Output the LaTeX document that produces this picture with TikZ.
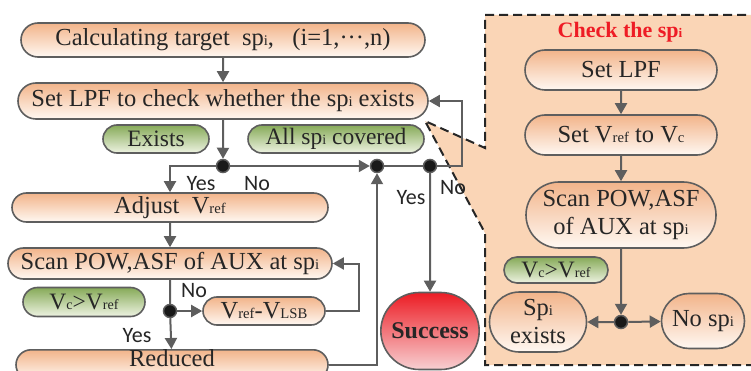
\documentclass[tikz,border=0pt]{standalone}
\usepackage{fontspec}
\setmainfont{Liberation Serif}
\newfontfamily\yesno{Carlito}
\usetikzlibrary{arrows.meta,shapes.misc}

\definecolor{edgegray}{HTML}{5E5E5E}
\definecolor{boxtop}{HTML}{F2B48A}
\definecolor{boxbot}{HTML}{FFF8F2}
\definecolor{greentop}{HTML}{86AA58}
\definecolor{greenbot}{HTML}{EEF3E2}
\definecolor{panelfill}{HTML}{FAD5B6}
\definecolor{redtop}{HTML}{EC1C24}
\definecolor{redbot}{HTML}{F8D0D2}
\definecolor{titlered}{HTML}{EE1C25}

\newcommand{\lw}[1]{\scalebox{0.6}{#1}}

\tikzset{
  flowbox/.style={rounded rectangle, draw=edgegray, line width=1.6pt, top color=boxtop, bottom color=boxbot,
    inner sep=0pt, align=center, text=black!85, font=\fontsize{24.5}{28}\selectfont},
  tagbox/.style={rounded rectangle, draw=edgegray, line width=1.6pt, top color=greentop, bottom color=greenbot,
    inner sep=0pt, text=black!85, font=\fontsize{23.5}{26}\selectfont},
  jdot/.style={circle, fill=black!90, draw=edgegray, line width=1.5pt, minimum size=13pt, inner sep=0pt},
  flow/.style={draw=edgegray, line width=2pt, -{Triangle[length=11pt,width=12pt]}},
  plain/.style={draw=edgegray, line width=2pt},
  yn/.style={font=\yesno\fontsize{22}{24}\selectfont, inner sep=0pt, text=black!85},
  panelline/.style={draw=black!85, line width=2pt, dash pattern=on 9pt off 5pt},
}

\begin{document}
\begin{tikzpicture}[x=1pt,y=-1pt]
  \clip (0,0) rectangle (751,371);
  % zoomed panel
  \fill[panelfill] (425,121) -- (485,148) -- (485,15) -- (760,15) -- (760,365) -- (485,365) -- (485,233) -- cycle;
  \draw[panelline] (760,15) -- (485,15) -- (485,148) -- (425,121) -- (485,233) -- (485,365) -- (760,365);

  % main flow
  \node[flowbox, minimum width=404pt, minimum height=34pt] (calc) at (223,40) {Calculating target\ \ sp\lw{i},\ \ \ (i=1,···,n)};
  \node[flowbox, minimum width=410pt, minimum height=36pt] (setlpf) at (223,101) {Set LPF to check whether the sp\lw{i} exists};
  \node[tagbox, minimum width=106pt, minimum height=28pt] (exists) at (156,139) {Exists};
  \node[tagbox, minimum width=176pt, minimum height=28pt] (allcov) at (336,139) {All sp\lw{i} covered};
  \node[jdot] (dotA) at (223,166) {};
  \node[jdot] (dotB) at (377,166) {};
  \node[jdot] (dotC) at (430,166) {};
  \node[flowbox, minimum width=316pt, minimum height=29pt] (adjust) at (170,207.5) {Adjust\ \ V\lw{ref}};
  \node[flowbox, minimum width=324pt, minimum height=31pt] (scan) at (170,263.5) {Scan POW,ASF of AUX at sp\lw{i}};
  \node[jdot] (dotD) at (170,311) {};
  \node[flowbox, minimum width=122pt, minimum height=28pt] (vlsb) at (264,311) {V\lw{ref}-V\lw{LSB}};
  \node[tagbox, minimum width=122pt, minimum height=29pt] (vcv) at (84,302) {V\lw{c}>V\lw{ref}};
  \node[flowbox, minimum width=312pt, text height=17pt, text depth=13pt, anchor=north] (reduced) at (172,349) {Reduced};
  \node[rounded rectangle, draw=edgegray, line width=1.6pt, top color=redtop, bottom color=redbot,
    minimum width=105pt, minimum height=77pt, text=black!85, font=\bfseries\fontsize{24}{28}\selectfont] (success) at (430,331) {Success};

  % panel flow
  \node[text=titlered, font=\bfseries\fontsize{22}{24}\selectfont] (title) at (620,32) {Check the sp\lw{i}};
  \node[flowbox, minimum width=192pt, minimum height=40pt] (plpf) at (621,70) {Set LPF};
  \node[flowbox, minimum width=192pt, minimum height=40pt] (pvref) at (621,135) {Set V\lw{ref} to V\lw{c}};
  \node[flowbox, minimum width=190pt, minimum height=66pt] (pscan) at (621,215) {Scan POW,ASF\\of AUX at sp\lw{i}};
  \node[tagbox, minimum width=104pt, minimum height=26pt] (pvcv) at (556,270) {V\lw{c}>V\lw{ref}};
  \node[jdot] (dotE) at (621,322) {};
  \node[flowbox, minimum width=97pt, minimum height=60pt] (spex) at (538,322) {Sp\lw{i}\\exists};
  \node[flowbox, minimum width=83pt, minimum height=55pt] (nosp) at (703,321) {No sp\lw{i}};

  % connectors
  \draw[flow] (calc) -- (setlpf);
  \draw[flow] (setlpf) -- (dotA);
  \draw[flow] (dotA.west) -| (adjust.north);
  \draw[flow] (dotA) -- (dotB);
  \draw[plain] (dotB) -- (dotC);
  \draw[flow] (dotC.east) -- ++(25,0) |- (setlpf.east);
  \draw[flow] (dotC) -- (success);
  \draw[flow] (adjust) -- (scan);
  \draw[plain] (scan) -- (dotD);
  \draw[flow] (dotD) -- (vlsb);
  \draw[flow] (vlsb.east) -- ++(33,0) |- (scan.east);
  \draw[flow] (dotD) -- (reduced);
  \draw[flow] (reduced.east) -| (dotB.south);
  \draw[flow] (plpf) -- (pvref);
  \draw[flow] (pvref) -- (pscan);
  \draw[flow] (pscan) -- (dotE);
  \draw[flow] (dotE) -- (spex);
  \draw[flow] (dotE) -- (nosp);

  % branch labels
  \node[yn] (yesA) at (201,184) {Yes};
  \node[yn] (noA) at (257,184) {No};
  \node[yn] (yesC) at (411,198) {Yes};
  \node[yn] (noC) at (453,188) {No};
  \node[yn] (noD) at (194,291) {No};
  \node[yn] (yesD) at (137,336) {Yes};
\end{tikzpicture}
\end{document}
